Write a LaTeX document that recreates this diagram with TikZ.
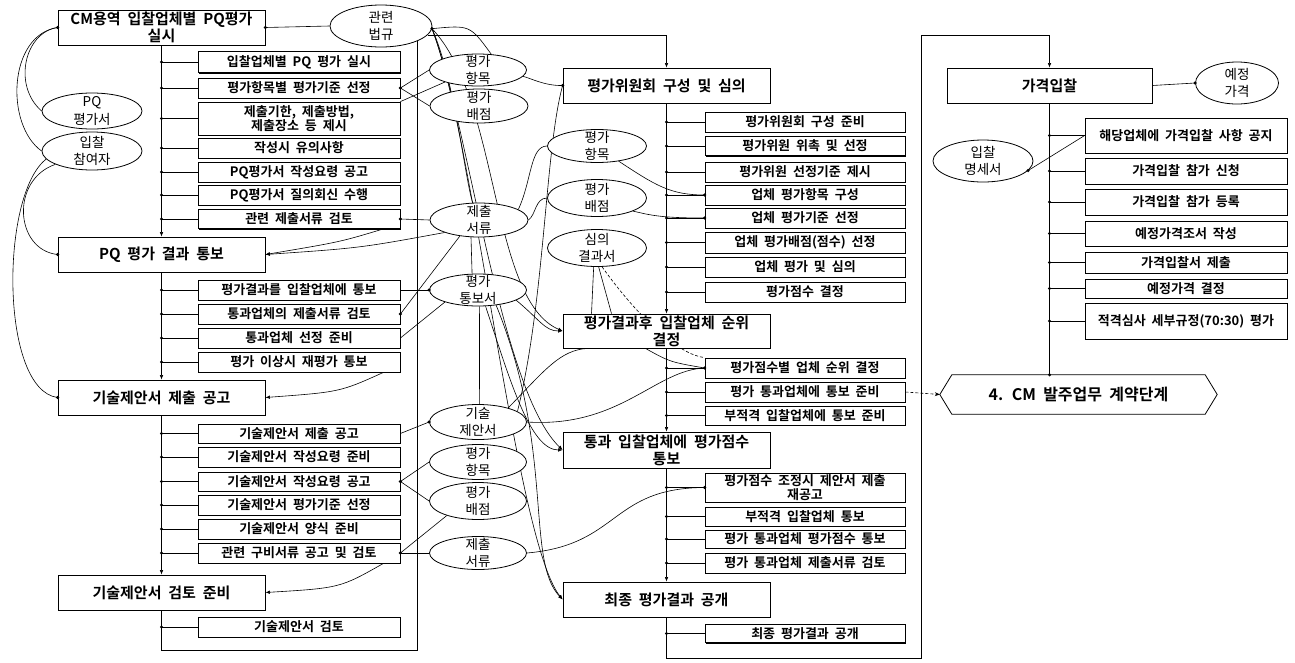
\documentclass[tikz,border=0pt]{standalone}
\usepackage{fontspec}
\setmainfont{Noto Sans CJK KR}[BoldFont={Noto Sans CJK KR Bold},WordSpace={2}]
\usetikzlibrary{shapes.geometric,calc,arrows.meta,shadows}
\pgfdeclarelayer{bg}\pgfdeclarelayer{fg}\pgfsetlayers{bg,main,fg}
\tikzset{
 sbox/.style={draw, fill=white, line width=0.8pt, minimum width=202pt, inner sep=0pt, align=center,
   font=\bfseries\fontsize{13}{14.5}\selectfont,
   drop shadow={shadow xshift=1.2pt,shadow yshift=-1.2pt,opacity=1,fill=black}},
 mbox/.style={sbox, minimum width=207pt, minimum height=35pt, font=\bfseries\fontsize{15}{17}\selectfont},
 ell/.style={ellipse, draw, fill=white, line width=0.8pt, inner sep=-8pt, align=center, font=\fontsize{13.5}{17.5}\selectfont},
 conn/.style={line width=0.6pt},
 arr/.style={conn, -{Latex[length=4.5pt,width=3.5pt]}},
}
\newcommand\dotat[1]{\fill (#1) circle (1.7pt);}
\begin{document}
\begin{tikzpicture}[x=1pt,y=-1pt]
\useasboundingbox (0,0) rectangle (1295,662);
% ---------- column 1 ----------
\node[mbox] (box1) at (161.5,27.5) {CM용역 입찰업체별 PQ평가\\실시};
\node[mbox] (pq) at (161.5,254.5) {PQ 평가 결과 통보};
\node[mbox] (tp) at (161.5,397.5) {기술제안서 제출 공고};
\node[mbox] (tr) at (161.5,592.5) {기술제안서 검토 준비};
\node[sbox,minimum height=21pt] (s11) at (299,62) {입찰업체별 PQ 평가 실시};
\node[sbox,minimum height=20pt] (s12) at (299,88) {평가항목별 평가기준 선정};
\node[sbox,minimum height=33pt] (s13) at (299,118.5) {제출기한, 제출방법,\\제출장소 등 제시};
\node[sbox,minimum height=20pt] (s14) at (299,148) {작성시 유의사항};
\node[sbox,minimum height=20pt] (s15) at (299,172) {PQ평가서 작성요령 공고};
\node[sbox,minimum height=20pt] (s16) at (299,195) {PQ평가서 질의회신 수행};
\node[sbox,minimum height=19pt] (s17) at (299,219) {관련 제출서류 검토};
\node[sbox,minimum height=20pt] (s21) at (299,290) {평가결과를 입찰업체에 통보};
\node[sbox,minimum height=20pt] (s22) at (299,314) {통과업체의 제출서류 검토};
\node[sbox,minimum height=20pt] (s23) at (299,338) {통과업체 선정 준비};
\node[sbox,minimum height=20pt] (s24) at (299,362) {평가 이상시 재평가 통보};
\node[sbox,minimum height=19pt] (s31) at (299,433.5) {기술제안서 제출 공고};
\node[sbox,minimum height=20pt] (s32) at (299,457) {기술제안서 작성요령 준비};
\node[sbox,minimum height=19pt] (s33) at (299,481.5) {기술제안서 작성요령 공고};
\node[sbox,minimum height=20pt] (s34) at (299,505) {기술제안서 평가기준 선정};
\node[sbox,minimum height=20pt] (s35) at (299,529) {기술제안서 양식 준비};
\node[sbox,minimum height=20pt] (s36) at (299,553) {관련 구비서류 공고 및 검토};
\node[sbox,minimum height=20pt] (s41) at (299,627) {기술제안서 검토};
% ---------- column 2 ----------
\node[mbox] (m1) at (666.5,85.5) {평가위원회 구성 및 심의};
\node[mbox,minimum height=34pt] (m2) at (666.5,331) {평가결과후 입찰업체 순위\\결정};
\node[mbox,minimum height=36pt] (m3) at (666.5,450) {통과 입찰업체에 평가점수\\통보};
\node[mbox] (m4) at (666.5,599.5) {최종 평가결과 공개};
\node[sbox,minimum width=200pt,minimum height=20pt] (t11) at (805,122) {평가위원회 구성 준비};
\node[sbox,minimum width=200pt,minimum height=19pt] (t12) at (805,146) {평가위원 위촉 및 선정};
\node[sbox,minimum width=200pt,minimum height=20pt] (t13) at (805,172) {평가위원 선정기준 제시};
\node[sbox,minimum width=200pt,minimum height=20pt] (t14) at (805,195) {업체 평가항목 구성};
\node[sbox,minimum width=200pt,minimum height=20pt] (t15) at (805,218) {업체 평가기준 선정};
\node[sbox,minimum width=200pt,minimum height=21pt] (t16) at (805,242.5) {업체 평가배점(점수) 선정};
\node[sbox,minimum width=200pt,minimum height=20pt] (t17) at (805,267) {업체 평가 및 심의};
\node[sbox,minimum width=200pt,minimum height=20pt] (t18) at (805,292) {평가점수 결정};
\node[sbox,minimum width=200pt,minimum height=20pt] (t21) at (805,368) {평가점수별 업체 순위 결정};
\node[sbox,minimum width=200pt,minimum height=20pt] (t22) at (805,392) {평가 통과업체에 통보 준비};
\node[sbox,minimum width=200pt,minimum height=19pt] (t23) at (805,415.5) {부적격 입찰업체에 통보 준비};
\node[sbox,minimum width=200pt,minimum height=29pt] (t31) at (805,487.5) {평가점수 조정시 제안서 제출\\재공고};
\node[sbox,minimum width=200pt,minimum height=19pt] (t32) at (805,516.5) {부적격 입찰업체 통보};
\node[sbox,minimum width=200pt,minimum height=18pt] (t33) at (805,539) {평가 통과업체 평가점수 통보};
\node[sbox,minimum width=200pt,minimum height=20pt] (t34) at (805,563) {평가 통과업체 제출서류 검토};
\node[sbox,minimum width=200pt,minimum height=18pt] (t41) at (805,633.5) {최종 평가결과 공개};
% ---------- column 3 ----------
\node[mbox,minimum width=205pt] (g) at (1049.5,85.5) {가격입찰};
\node[sbox,minimum height=35pt] (u1) at (1186,135.5) {해당업체에 가격입찰 사항 공지};
\node[sbox,minimum height=26pt] (u2) at (1186,171) {가격입찰 참가 신청};
\node[sbox,minimum height=26pt] (u3) at (1186,202) {가격입찰 참가 등록};
\node[sbox,minimum height=25pt] (u4) at (1186,233.5) {예정가격조서 작성};
\node[sbox,minimum height=21pt] (u5) at (1186,262.5) {가격입찰서 제출};
\node[sbox,minimum height=19pt] (u6) at (1186,288.5) {예정가격 결정};
\node[sbox,minimum height=36pt] (u7) at (1186,321) {적격심사 세부규정(70:30) 평가};
\node[minimum width=277pt,minimum height=39pt,inner sep=0pt,font=\bfseries\fontsize{16}{19}\selectfont] (hex) at (1078.5,394.5) {4. CM 발주업무 계약단계};
\draw[line width=0.8pt] (hex.west) -- ($(hex.north west)+(12,0)$) -- ($(hex.north east)+(-12,0)$) -- (hex.east) -- ($(hex.south east)+(-12,0)$) -- ($(hex.south west)+(12,0)$) -- cycle;
% ---------- ellipses ----------
\node[ell,minimum width=102pt,minimum height=42pt] (law) at (381,26) {관련\\법규};
\node[ell,minimum width=100pt,minimum height=36pt] (pqd) at (92,111) {PQ\\평가서};
\node[ell,minimum width=100pt,minimum height=38pt] (bid) at (92,151) {입찰\\참여자};
\node[ell,minimum width=97pt,minimum height=32pt] (a1) at (478,70) {평가\\항목};
\node[ell,minimum width=98pt,minimum height=34pt] (b1) at (479,106) {평가\\배점};
\node[ell,minimum width=98pt,minimum height=34pt] (c1) at (479,220) {제출\\서류};
\node[ell,minimum width=97pt,minimum height=32pt] (d1) at (478,290) {평가\\통보서};
\node[ell,minimum width=97pt,minimum height=35pt] (e1) at (478,422) {기술\\제안서};
\node[ell,minimum width=97pt,minimum height=35pt] (f1) at (478,462) {평가\\항목};
\node[ell,minimum width=97pt,minimum height=37pt] (g1) at (478,501) {평가\\배점};
\node[ell,minimum width=97pt,minimum height=33pt] (h1) at (478,553) {제출\\서류};
\node[ell,minimum width=99pt,minimum height=33pt] (a2) at (597,146) {평가\\항목};
\node[ell,minimum width=99pt,minimum height=37pt] (b2) at (597,198) {평가\\배점};
\node[ell,minimum width=99pt,minimum height=37pt] (c2) at (597,248) {심의\\결과서};
\node[ell,minimum width=83pt,minimum height=42pt] (yj) at (1237,83) {예정\\가격};
\node[ell,minimum width=100pt,minimum height=42pt] (im) at (983,161) {입찰\\명세서};
% ---------- connectors ----------
\begin{pgfonlayer}{bg}
% column 1 frame
\draw[arr] (box1.south) -- (pq.north);
\draw[arr] (pq.south) -- (tp.north);
\draw[arr] (tp.south) -- (tr.north);
\coordinate (f1b) at (161.5,650);
\draw[conn] (tr.south) -- (f1b) -| (law.south east);
\foreach \n in {s11,s12,s13,s14,s15,s16,s17,s21,s22,s23,s24,s31,s32,s33,s34,s35,s36,s41}
  {\draw[conn] (box1.south |- \n.west) -- (\n.west);}
% column 2 frame
\draw[arr] (law.-11) -| (m1.north);
\draw[arr] (m1.south) -- (m2.north);
\draw[arr] (m2.south) -- (m3.north);
\draw[arr] (m3.south) -- (m4.north);
\coordinate (c2b) at (666.5,658);
\coordinate (c3t) at (921,35);
\draw[arr] (m4.south) -- (c2b) -| (c3t) -| (g.north);
\foreach \n in {t11,t12,t13,t14,t15,t16,t17,t18,t21,t22,t23,t31,t32,t33,t34,t41}
  {\draw[conn] (m1.south |- \n.west) -- (\n.west);}
% column 3
\draw[conn] (g.south) -- (g.south |- hex.north);
\foreach \n in {u1,u2,u3,u4,u5,u6,u7}
  {\draw[conn] (g.south |- \n.west) -- (\n.west);}
\draw[conn] (g.east) -- (yj.west);
\draw[conn] (im.-12) -- (u1.west);
\draw[conn,densely dashed,-{Stealth[length=5pt,width=4pt]}] (t22.east) -- (hex.west);
% left ellipses
\draw[conn] (box1.east) -- (law.west);
\draw[conn] (box1.west) .. controls (25,32) and (12,85) .. (pqd.west);
\draw[conn] (box1.west) .. controls (8,35) and (5,125) .. (bid.west);
\draw[conn] (bid.200) .. controls (10,180) and (15,250) .. (pq.west);
\draw[conn] (bid.190) .. controls (0,195) and (0,390) .. (tp.west);
% col1 right side
\draw[conn] (s12.east) -- (a1.west);
\draw[conn] (s12.east) -- (b1.west);
\draw[conn] (s13.north east) -- (a1.200);
\draw[conn] (s17.east) -- (c1.west);
\draw[arr] ($(s17.south east)+(-17,0)$) .. controls (340,242) .. (pq.east);
\draw[arr] (c1.200) .. controls (360,248) .. (pq.east);
\draw[conn] (s21.east) -- (d1.west);
\draw[conn] (s22.east) -- (c1.220);
\draw[conn] (s23.east) -- (d1.200);
\draw[arr] ($(s24.south east)+(-17,0)$) .. controls (340,392) .. (tp.east);
\draw[conn] (s31.east) -- (e1.west);
\draw[conn] (s33.east) -- (f1.west);
\draw[conn] (s33.east) -- (g1.west);
\draw[conn] (s36.east) -- (h1.west);
\draw[conn] (s36.east) -- (g1.205);
\draw[arr] ($(s36.south east)+(-17,0)$) .. controls (340,588) .. (tr.east);
% fan from law
\draw[conn] (law.-3) .. controls (470,25) .. (a1.50);
\draw[conn] (law.-3) .. controls (455,80) and (465,180) .. (c1.110);
\draw[arr] (law.-3) .. controls (500,100) and (490,300) .. (m2.west);
\draw[arr] (law.-3) .. controls (470,130) and (500,390) .. (m3.west);
\draw[arr] (law.-3) .. controls (475,140) and (515,540) .. (m4.west);
% column 2 connections
\draw[conn] (a1.-8) .. controls (530,78) and (545,86) .. (m1.west);
\draw[conn] (e1.15) .. controls (545,300) and (545,150) .. (m1.west);
\draw[conn] (c1.15) .. controls (532,180) and (530,146) .. (a2.west);
\draw[conn] (c1.0) .. controls (536,215) and (535,198) .. (b2.west);
\draw[conn] (a2.-35) .. controls (655,185) and (670,195) .. (t14.west);
\draw[conn] (b2.-20) .. controls (650,215) and (660,218) .. (t15.west);
\draw[conn] (c2.-100) -- ($(m2.north)+(-75,0)$);
\draw[conn] (c2.-85) -- ($(m2.north)+(-55,0)$);
\draw[conn,densely dashed] (c2.-75) .. controls (640,320) and (680,355) .. (t21.north west);
\draw[conn] ($(m2.south east)+(-125,0)$) .. controls (670,362) .. (t21.west);
\draw[conn] (e1.east) .. controls (620,428) and (655,370) .. (t21.west);
\draw[conn] (e1.25) .. controls (545,370) and (560,350) .. ($(m2.south west)+(25,0)$);
\draw[arr] (d1.-15) .. controls (540,320) and (545,331) .. (m2.west);
\draw[arr] (d1.-65) .. controls (510,380) and (530,450) .. (m3.west);
\draw[arr] (d1.-40) .. controls (555,450) and (525,560) .. (m4.west);
\draw[conn] (d1.-85) -- (e1.85);
\draw[conn] (c1.-115) -- (d1.110);
\draw[conn] (h1.east) .. controls (620,545) and (610,488) .. (t31.west);
\end{pgfonlayer}
% ---------- dots ----------
\begin{pgfonlayer}{fg}
\foreach \n in {s11,s12,s13,s14,s15,s16,s17,s21,s22,s23,s24,s31,s32,s33,s34,s35,s36,s41}
  {\dotat{box1.south |- \n.west}}
\foreach \n in {t11,t12,t13,t14,t15,t16,t17,t18,t21,t22,t23,t31,t32,t33,t34,t41}
  {\dotat{m1.south |- \n.west}}
\foreach \n in {u1,u2,u3,u4,u5,u6,u7}
  {\dotat{g.south |- \n.west}}
\dotat{g.south |- hex.north}
\dotat{yj.west}\dotat{im.-12}
\dotat{box1.east}\dotat{box1.west}\dotat{law.-3}
\dotat{pq.west}\dotat{tp.west}
\dotat{s12.east}\dotat{s17.east}\dotat{s22.east}\dotat{s33.east}\dotat{s36.east}
\dotat{d1.west}\dotat{e1.west}
\dotat{m1.west}\dotat{t14.west}\dotat{t15.west}\dotat{t21.west}\dotat{t31.west}
\end{pgfonlayer}
\end{tikzpicture}
\end{document}
